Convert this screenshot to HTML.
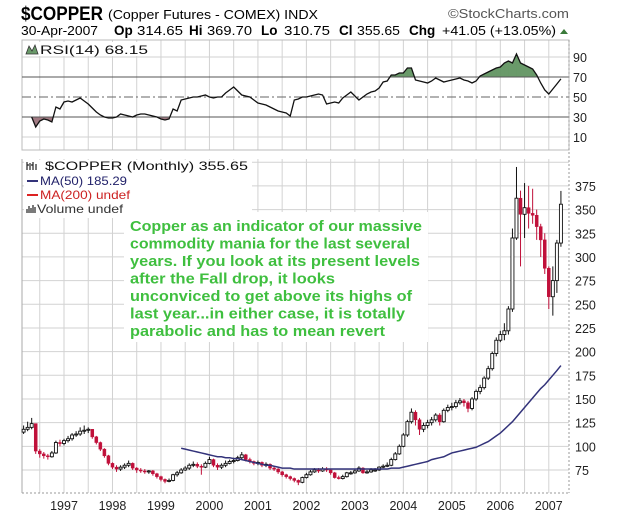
<!DOCTYPE html>
<html><head><meta charset="utf-8"><style>
html,body{margin:0;padding:0;background:#fff;}
svg{display:block;}
text{font-family:"Liberation Sans",sans-serif;}
</style></head><body>
<svg id="chart" width="620" height="516" viewBox="0 0 620 516" xmlns="http://www.w3.org/2000/svg">
<g>
<text x="21" y="20" font-size="19" font-weight="bold" textLength="82" lengthAdjust="spacingAndGlyphs">$COPPER</text>
<text x="108" y="19" font-size="12.5" textLength="210" lengthAdjust="spacingAndGlyphs">(Copper Futures - COMEX) INDX</text>
<text x="448" y="18" font-size="12.5" fill="#555" textLength="121" lengthAdjust="spacingAndGlyphs">©StockCharts.com</text>
<g font-size="12.5">
<text x="21" y="35" textLength="77" lengthAdjust="spacingAndGlyphs">30-Apr-2007</text>
<text x="114" y="35" font-weight="bold" font-size="13.5">Op</text><text x="137" y="35" textLength="46" lengthAdjust="spacingAndGlyphs">314.65</text>
<text x="189" y="35" font-weight="bold" font-size="13.5">Hi</text><text x="207" y="35" textLength="45" lengthAdjust="spacingAndGlyphs">369.70</text>
<text x="261" y="35" font-weight="bold" font-size="13.5">Lo</text><text x="284" y="35" textLength="46" lengthAdjust="spacingAndGlyphs">310.75</text>
<text x="339" y="35" font-weight="bold" font-size="13.5">Cl</text><text x="357" y="35" textLength="43" lengthAdjust="spacingAndGlyphs">355.65</text>
<text x="409" y="35" font-weight="bold" font-size="13.5">Chg</text><text x="442" y="35" textLength="114" lengthAdjust="spacingAndGlyphs">+41.05 (+13.05%)</text>
<polygon points="560,34 568,34 564,29" fill="#3a7a3a"/>
</g>
</g>
<g id="rsi"></g>
<g id="main"></g>
</svg>
<script>
// ---- data ----
const startLabel = "Mar 1996"; // index 0
const closes = [118,120,124,95,92,90,89,93,104,103,
106,108,112,113,116,117,118,110,104,97,90,82,
78,76,78,80,82,77,75,74,73,74,71,68,
65,63,64,70,72,75,77,80,81,79,78,82,
86,80,78,80,82,84,85,88,91,86,84,82,
83,80,81,77,76,73,70,68,66,64,62,67,
70,73,75,74,76,75,72,67,66,68,72,72,
74,77,72,73,75,75,78,79,80,86,92,100,
112,126,136,128,118,122,125,128,133,126,138,141,
142,146,148,146,140,150,158,162,172,182,198,212,
218,222,245,320,362,345,352,346,344,332,318,288,
258,275,314.65,355.65];
const highs = [122,126,130,124,97,94,92,95,106,107,
108,111,114,116,120,122,120,118,111,105,98,91,
83,80,80,82,85,83,78,77,76,75,75,72,
69,66,66,71,74,77,79,82,84,83,81,84,
89,87,82,82,85,86,88,90,94,92,88,85,
85,84,83,82,79,77,74,71,69,67,65,68,
72,75,77,77,78,78,76,73,69,70,73,74,
76,79,78,75,77,77,79,81,83,88,94,102,
114,128,140,138,130,125,128,131,135,135,140,144,
146,149,151,150,148,152,160,165,174,185,200,215,
222,230,248,330,395,370,378,375,372,350,335,325,
290,290,318,369.7];
const lows = [113,116,118,92,88,87,86,88,92,100,
101,104,106,110,111,113,114,108,102,95,88,80,
76,73,74,76,78,75,72,72,71,71,69,66,
63,61,62,63,68,71,74,75,78,77,70,77,
81,78,75,76,78,81,82,84,86,84,82,80,
80,78,78,75,74,71,68,66,64,62,59,61,
66,69,72,72,73,73,70,66,65,65,67,70,
71,73,71,71,72,73,74,77,78,79,85,91,
99,110,124,122,112,115,119,122,126,122,125,136,
138,140,144,142,136,138,148,155,160,170,180,195,
210,212,218,242,318,290,320,330,335,318,300,282,
245,238,262,310.75];
const opens = [115].concat(closes.slice(0, closes.length - 1));
const ma50Start = 39;
const ma50 = [98,97,96,95,94,93,92,
91,90,89,89,88,88,87,87,86,85,84,83,
82,81,80,80,79,78,77,77,77,76,76,76,
76,76,76,76,76,76,76,76,76,76,76,76,
76,76,76,76,76,76,76,76,76,77,77,77,
78,79,80,81,82,83,84,86,87,88,89,91,
93,94,95,96,97,98,99,101,103,105,108,111,
114,118,122,126,131,136,141,146,151,156,161,165,
170,175,180,185.29];
const rsiStart = 2;
const rsi = [30,20,26,28,27,25,40,38,45,46,45,47,49,
46,43,39,35,32,30,29,29,30,33,32,31,30,32,33,33,32,31,30,28,27,28,38,36,47,48,49,50,50,51,52,
50,49,50,50,
54,57,60,56,52,51,50,47,44,43,
42,40,38,36,35,34,31,47,48,50,
50,51,52,53,52,43,44,45,44,49,
52,55,51,47,50,53,55,56,59,65,
66,72,72,74,74,79,79,67,66,65,
64,66,69,67,65,66,67,68,69,67,
66,64,66,71,73,75,77,79,80,84,
86,84,93,84,82,80,78,72,64,57,
53,58,63,68.15];
const priceTicks = [75,100,125,150,175,200,225,250,275,300,325,350,375];
const rsiTicks = [10,30,50,70,90];
const yearLabels = ["1997","1998","1999","2000","2001","2002","2003","2004","2005","2006","2007"];
const yearIndex = [10,22,34,46,58,70,82,94,106,118,130];

// ---- geometry ----
const L = 22, R = 569;
const xOf = i => 23.6 + i * 4.04;
const yP = v => 470 - (v - 75) * 0.947;
const yR = v => 147 - v;
const NS = "http://www.w3.org/2000/svg";
function mk(parent, tag, attrs) {
  const e = document.createElementNS(NS, tag);
  for (const k in attrs) e.setAttribute(k, attrs[k]);
  parent.appendChild(e);
  return e;
}
const rsiG = document.getElementById('rsi');
const mainG = document.getElementById('main');

// vertical gridlines (half-year)
function vgrid(g, top, bottom) {
  for (let i = 4; i <= 134; i += 6) {
    const x = xOf(i);
    if (x <= L || x >= R) continue;
    const ln = mk(g, 'line', {x1: x, x2: x, y1: top, y2: bottom, stroke: '#d2d2d2', 'stroke-width': 1});
    
    
  }
}

// ---- RSI panel ----
vgrid(rsiG, 40, 150);
[10, 90].forEach(v => {
  const ln = mk(rsiG, 'line', {x1: L, x2: R, y1: yR(v), y2: yR(v), stroke: '#d2d2d2'});
  
  
});
mk(rsiG, 'rect', {x: L, y: 40, width: R - L, height: 110, fill: 'none', stroke: '#bbb'});
// fills
(function () {
  const pts = rsi.map((v, k) => [xOf(k + rsiStart), yR(v)]);
  function fillZone(th, above, color, name) {
    let d = '';
    for (let k = 0; k < pts.length - 1; k++) {
      const [x1, y1] = pts[k], [x2, y2] = pts[k + 1];
      const v1 = rsi[k], v2 = rsi[k + 1];
      const in1 = above ? v1 > th : v1 < th, in2 = above ? v2 > th : v2 < th;
      if (!in1 && !in2) continue;
      let ax = x1, ay = y1, bx = x2, by = y2;
      if (!in1) { const t = (th - v1) / (v2 - v1); ax = x1 + t * (x2 - x1); ay = yR(th); }
      if (!in2) { const t = (th - v1) / (v2 - v1); bx = x1 + t * (x2 - x1); by = yR(th); }
      d += `M${ax},${yR(th)}L${ax},${ay}L${bx},${by}L${bx},${yR(th)}Z`;
    }
    const p = mk(rsiG, 'path', {d: d, fill: color, stroke: color, 'stroke-width': 0.5});
    
    
  }
  fillZone(70, true, '#6a9a6a', 'rsi-overbought-fill');
  fillZone(30, false, '#a07a82', 'rsi-oversold-fill');
})();
[30, 70].forEach(v => {
  const ln = mk(rsiG, 'line', {x1: L, x2: R, y1: yR(v), y2: yR(v), stroke: '#555', 'stroke-width': 1});
  
  
});
const mid = mk(rsiG, 'line', {x1: L, x2: R, y1: yR(50), y2: yR(50), stroke: '#666', 'stroke-width': 1, 'stroke-dasharray': '9,3,2,3'});


const rsiLine = mk(rsiG, 'polyline', {points: rsi.map((v, k) => xOf(k + rsiStart) + ',' + yR(v)).join(' '), fill: 'none', stroke: '#111', 'stroke-width': 1.3});


rsiTicks.forEach(v => {
  const t = mk(rsiG, 'text', {x: 573, y: yR(v) + 5, 'font-size': 12.5, fill: '#222'});
  t.textContent = v;
  
  
});
const rl = mk(rsiG, 'rect', {x: 24, y: 42, width: 126, height: 14, fill: '#fff'});
const ricon = mk(rsiG, 'path', {d: 'M26,54 L29,46 L32,51 L35,45 L38,54 Z', fill: '#6a9a6a', stroke: '#333', 'stroke-width': 0.8});


const rt = mk(rsiG, 'text', {x: 40, y: 54, 'font-size': 12, fill: '#111', textLength: 108, lengthAdjust: 'spacingAndGlyphs', 'font-family': '"DejaVu Sans Mono",monospace'});
rt.textContent = 'RSI(14) 68.15';



// ---- main panel ----
vgrid(mainG, 159, 493);
priceTicks.concat([400]).forEach(v => {
  const ln = mk(mainG, 'line', {x1: L, x2: R, y1: yP(v), y2: yP(v), stroke: '#d2d2d2'});
  
  
});
mk(mainG, 'line', {x1: L, x2: L, y1: 159, y2: 493, stroke: '#aaa'});
mk(mainG, 'line', {x1: R, x2: R, y1: 40, y2: 493, stroke: '#999', 'stroke-dasharray': '2,2'});
mk(mainG, 'line', {x1: L, x2: R, y1: 493, y2: 493, stroke: '#999', 'stroke-dasharray': '2,2'});
// legend and note backgrounds
mk(mainG, 'rect', {x: 24, y: 160, width: 228, height: 58, fill: '#fff'});
mk(mainG, 'rect', {x: 124, y: 212, width: 304, height: 130, fill: '#fff'});

// candles
closes.forEach((c, i) => {
  const o = opens[i], h = highs[i], l = lows[i], x = xOf(i);
  const up = c >= o;
  const col = up ? '#111' : '#c0103a';
  const g = mk(mainG, 'g', {});
  
  
  mk(g, 'line', {x1: x, x2: x, y1: yP(h), y2: yP(l), stroke: col, 'stroke-width': 1});
  const top = yP(Math.max(o, c)), bot = yP(Math.min(o, c));
  mk(g, 'rect', {x: x - 1.5, y: top, width: 3, height: Math.max(1, bot - top), fill: up ? '#fff' : '#c0103a', stroke: col, 'stroke-width': up ? 0.9 : 0.5});
});
// MA50
const maLine = mk(mainG, 'polyline', {points: ma50.map((v, k) => xOf(k + ma50Start) + ',' + yP(v)).join(' '), fill: 'none', stroke: '#33337a', 'stroke-width': 1.5});



priceTicks.forEach(v => {
  const t = mk(mainG, 'text', {x: 575, y: yP(v) + 5, 'font-size': 12.5, fill: '#222'});
  t.textContent = v;
  
  
});
yearLabels.forEach((s, k) => {
  const t = mk(mainG, 'text', {x: xOf(yearIndex[k]), y: 510, 'font-size': 12.5, fill: '#222', 'text-anchor': 'middle'});
  t.textContent = s;
  
  
});

// legend
const lg = mk(mainG, 'g', {'font-size': 12});


mk(lg, 'path', {d: 'M27,162 v8 M27,165 h2 M30,163 v7 M33,162 v8 M33,165 h-2 M36,164 v6', stroke: '#222', 'stroke-width': 1.2, fill: 'none'});
const l1 = mk(lg, 'text', {x: 45, y: 170, fill: '#111', textLength: 203, lengthAdjust: 'spacingAndGlyphs', 'font-family': '"DejaVu Sans",sans-serif'});
l1.textContent = '$COPPER (Monthly) 355.65';
mk(lg, 'line', {x1: 27, x2: 38, y1: 181, y2: 181, stroke: '#33337a', 'stroke-width': 2});
const l2 = mk(lg, 'text', {x: 40, y: 185, fill: '#22226a', textLength: 87, lengthAdjust: 'spacingAndGlyphs'});
l2.textContent = 'MA(50) 185.29';
mk(lg, 'line', {x1: 27, x2: 38, y1: 195, y2: 195, stroke: '#dd2222', 'stroke-width': 2});
const l3 = mk(lg, 'text', {x: 40, y: 199, fill: '#cc2222', textLength: 90, lengthAdjust: 'spacingAndGlyphs'});
l3.textContent = 'MA(200) undef';
mk(lg, 'path', {d: 'M27,213 v-4 M29,213 v-7 M31,213 v-5 M33,213 v-8 M35,213 v-6', stroke: '#333', 'stroke-width': 1.3});
const l4 = mk(lg, 'text', {x: 37, y: 213, fill: '#333', textLength: 86, lengthAdjust: 'spacingAndGlyphs'});
l4.textContent = 'Volume undef';

// annotation
const note = [
  ["Copper as an indicator of our massive", 292],
  ["commodity mania for the last several", 280],
  ["years. If you look at its present levels", 290],
  ["after the Fall drop, it looks", 205],
  ["unconviced to get above its highs of", 282],
  ["last year...in either case, it is totally", 275],
  ["parabolic and has to mean revert", 255]
];
const ng = mk(mainG, 'g', {fill: '#3fbf3f', 'font-size': 14.5, 'font-weight': 'bold'});


note.forEach((ln, k) => {
  const t = mk(ng, 'text', {x: 130, y: 231 + k * 17.5, textLength: ln[1], lengthAdjust: 'spacingAndGlyphs'});
  t.textContent = ln[0];
});
</script>
</body></html>
